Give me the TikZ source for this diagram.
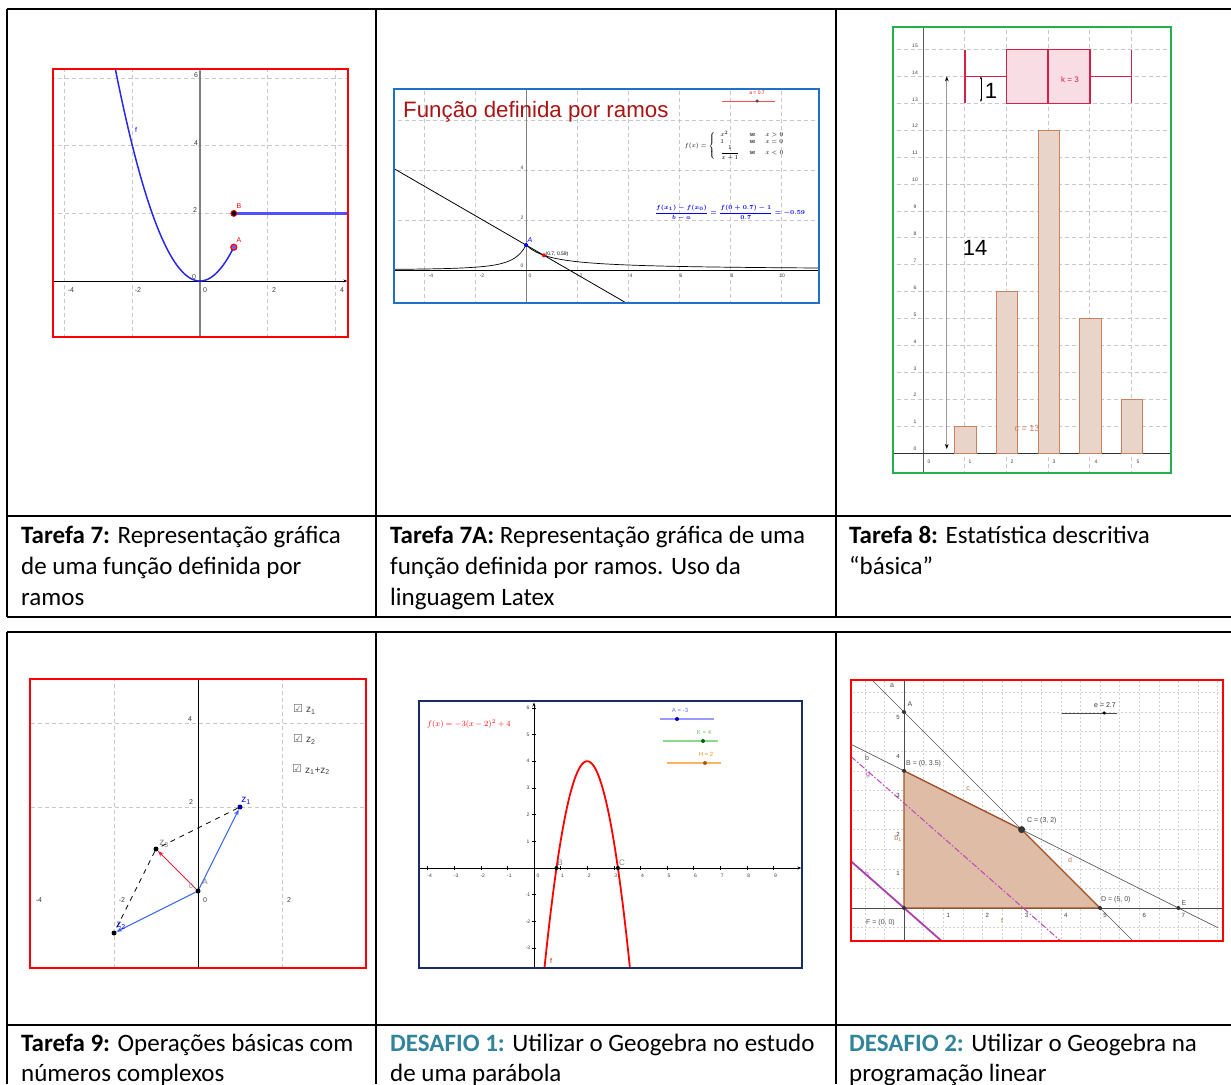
\documentclass[tikz,border=0pt]{standalone}
\usepackage{amsmath}
\usepackage{fontspec}
\setmainfont{Carlito}
\newfontfamily\arial{Liberation Sans}
\newfontfamily\dejavu{DejaVu Sans}
\usetikzlibrary{arrows.meta}
\definecolor{gridc}{RGB}{200,200,200}
\definecolor{teal1}{RGB}{49,132,155}
\definecolor{frblue}{RGB}{30,112,200}
\definecolor{frgreen}{RGB}{34,177,76}
\definecolor{frnavy}{RGB}{25,45,100}
\definecolor{titred}{RGB}{170,20,20}
\definecolor{boxred}{RGB}{214,30,72}
\definecolor{barfill}{RGB}{232,212,200}
\definecolor{bardraw}{RGB}{200,130,95}
\definecolor{polyfill}{RGB}{222,188,166}
\definecolor{polydraw}{RGB}{165,82,40}
\definecolor{mag}{RGB}{190,70,190}
\definecolor{vblue}{RGB}{50,100,240}
\definecolor{vred}{RGB}{235,30,60}
\definecolor{tickc}{RGB}{60,60,60}
\definecolor{gblue}{RGB}{40,40,235}
\definecolor{hblue}{RGB}{80,80,255}
\newcommand\gsz[1]{\arial\fontsize{#1}{#1}\selectfont}
\newcommand\ramosformula{$f(x)=\left\{\begin{array}{lll} x^2 & \mathrm{se} & x>0\\ 1 & \mathrm{se} & x=0\\ \dfrac{1}{x+1} & \mathrm{se} & x<0\end{array}\right.$}
\newcommand\secformula{$\dfrac{f(x_1)-f(x_0)}{b-a}=\dfrac{f(0+0.7)-1}{0.7}=-0.59$}
\newcommand\parformula{$f(x)=-3(x-2)^2+4$}
\tikzset{
  tline/.style={line width=1.4pt},
  tthick/.style={line width=2.3pt},
  captxt/.style={anchor=base west, inner sep=0pt, font=\fontsize{25}{30}\selectfont},
  grd/.style={gridc, dash pattern=on 4pt off 3pt, line width=0.7pt},
  grdf/.style={gridc!80, dash pattern=on 2pt off 2pt, line width=0.5pt},
  lbl/.style={inner sep=0pt, font=\gsz{7}, text=tickc},
  tinylbl/.style={inner sep=0pt, font=\gsz{5}, text=tickc},
  gdot/.style={circle, fill=black, inner sep=0pt, minimum size=5pt},
}
\begin{document}
\begin{tikzpicture}[x=1pt,y=-1pt]
\useasboundingbox (0,0) rectangle (1231,1084);
\fill[white] (0,0) rectangle (1231,1084);
% ---------------- table ----------------
\draw[tthick] (7,9) -- (1231,9);
\draw[tline] (7,9) -- (7,617);
\draw[tline] (376,9) -- (376,617);
\draw[tline] (836,9) -- (836,617);
\draw[tline] (7,516) -- (1231,516);
\draw[tthick] (7,617) -- (1231,617);
\draw[tthick] (7,632) -- (1231,632);
\draw[tline] (7,632) -- (7,1084);
\draw[tline] (376,632) -- (376,1084);
\draw[tline] (836,632) -- (836,1084);
\draw[tline] (7,1025) -- (1231,1025);
% captions
\node[captxt] (c1a) at (21,543) {\textbf{Tarefa 7:} Representação gráfica};
\node[captxt] (c1b) at (21,574) {de uma função definida por};
\node[captxt] (c1c) at (21,605) {ramos};
\node[captxt] (c2a) at (390,543) {\textbf{Tarefa 7A:} Representação gráfica de uma};
\node[captxt] (c2b) at (390,574) {função definida por ramos. Uso da};
\node[captxt] (c2c) at (390,605) {linguagem Latex};
\node[captxt] (c3a) at (849,543) {\textbf{Tarefa 8:} Estatística descritiva};
\node[captxt] (c3b) at (849,574) {“básica”};
\node[captxt] (c4a) at (21,1051) {\textbf{Tarefa 9:} Operações básicas com};
\node[captxt] (c4b) at (21,1081) {números complexos};
\node[captxt] (c5a) at (390,1051) {\textbf{\color{teal1}DESAFIO 1:} Utilizar o Geogebra no estudo};
\node[captxt] (c5b) at (390,1081) {de uma parábola};
\node[captxt] (c6a) at (849,1051) {\textbf{\color{teal1}DESAFIO 2:} Utilizar o Geogebra na};
\node[captxt] (c6b) at (849,1081) {programação linear};
% ---------------- panel 1 ----------------
\begin{scope}
\clip (54,70) rectangle (347,336);
\begin{scope}[shift={(200,281)}, x=33.8pt, y=33.8pt]
\foreach \i in {-4,-2,2,4} \draw[grd] (\i,-1.7) -- (\i,6.3);
\foreach \j in {4,6} \draw[grd] (-4.4,\j) -- (4.4,\j);
\draw[grd] (-4.4,2) -- (1,2);
\draw[gray, line width=1.2pt, -{Stealth[length=3pt]}] (0,-1.7) -- (0,6.27);
\draw[black, line width=0.8pt, -{Stealth[length=4pt]}] (-4.4,0) -- (4.36,0);
\draw[gblue, line width=1.5pt, domain=-2.6:1, samples=80] plot (\x,{\x*\x});
\fill[hblue] (1,1.96) rectangle (4.5,2.04);
\node[circle, fill=black, draw=red, line width=0.8pt, inner sep=0pt, minimum size=6pt] (p1B) at (1,2) {};
\node[circle, fill=blue!60, draw=red, line width=1.2pt, inner sep=0pt, minimum size=6pt] (p1A) at (1,1) {};
\end{scope}
\end{scope}
\draw[red, line width=1.8pt] (53,69) rectangle (348,337);
\node[lbl, text=blue] (l1f) at (136,130) {f};
\node[lbl, text=red] (l1B) at (239,206) {B};
\node[lbl, text=red] (l1A) at (239,240) {A};
\node[lbl] (t1a) at (71,290) {-4};
\node[lbl] (t1b) at (138,290) {-2};
\node[lbl] (t1c) at (205,290) {0};
\node[lbl] (t1d) at (274,290) {2};
\node[lbl] (t1e) at (342,290) {4};
\node[lbl] (t1f) at (196,75) {6};
\node[lbl] (t1g) at (196,143) {4};
\node[lbl] (t1h) at (195,210) {2};
\node[lbl] (t1i) at (194,277) {0};
% ---------------- panel 2 ----------------
\begin{scope}
\clip (395,90) rectangle (818,302);
\begin{scope}[shift={(526,270)}, x=25.5pt, y=25pt]
\foreach \i in {-4,-2,2,4,6,8,10} \draw[grd] (\i,-1.4) -- (\i,7.3);
\foreach \j in {2,4,6} \draw[grd] (-5.3,\j) -- (11.6,\j);
\draw[gray, line width=1pt] (0,-1.4) -- (0,7.3);
\draw[black, line width=0.9pt] (-5.3,0) -- (11.6,0);
\draw[black, line width=0.7pt, domain=-5.3:0, samples=60] plot (\x,{1/((1-\x)*(1-\x))});
\draw[black, line width=0.7pt, domain=0:11.6, samples=60] plot (\x,{1/(1+\x)});
\draw[black, line width=0.8pt] (-5.3,{1+0.59*5.3}) -- (4.1,{1-0.59*4.1});
\node[circle, fill=blue, inner sep=0pt, minimum size=4pt] (p2A) at (0,1) {};
\node[circle, fill=red, inner sep=0pt, minimum size=4pt] (p2P) at (0.7,0.588) {};
\end{scope}
\end{scope}
\draw[frblue, line width=1.8pt] (394,89) rectangle (819,303);
\node[anchor=base west, inner sep=0pt, text=titred, font=\arial\fontsize{22.3}{22}\selectfont] (t2) at (403,117) {Função definida por ramos};
\draw[red!70, line width=1pt] (722,101) -- (775,101);
\node[circle, fill=black!70, inner sep=0pt, minimum size=3.5pt] (s2) at (757,101) {};
\node[tinylbl, text=red] (s2l) at (757,93) {a = 0.7};
\node[inner sep=0pt, font=\fontsize{6.5}{7}\selectfont] (f2) at (737,146) {\ramosformula};
\node[inner sep=0pt, text=blue, font=\fontsize{6.5}{7}\selectfont\boldmath] (g2) at (730,213) {\secformula};
\node[inner sep=0pt, text=blue, font=\gsz{7}\itshape] (l2A) at (530,240) {A};
\node[tinylbl, text=black] (l2P) at (557,254) {(0.7, 0.59)};
\node[tinylbl] (t2a) at (431,276) {-4};
\node[tinylbl] (t2b) at (482,276) {-2};
\node[tinylbl] (t2c) at (530,276) {0};
\node[tinylbl] (t2d) at (581,276) {2};
\node[tinylbl] (t2e) at (631,276) {4};
\node[tinylbl] (t2f) at (681,276) {6};
\node[tinylbl] (t2g) at (732,276) {8};
\node[tinylbl] (t2h) at (782,276) {10};
\node[tinylbl] (t2i) at (522,168) {4};
\node[tinylbl] (t2j) at (522,218) {2};
\node[tinylbl] (t2k) at (522,266) {0};
% ---------------- panel 3 ----------------
\begin{scope}
\clip (894,28) rectangle (1170,472);
\begin{scope}[shift={(923,453)}, x=41.7pt, y=26.9pt]
\foreach \i in {1,...,5} \draw[grd] (\i,-0.8) -- (\i,15.9);
\foreach \j in {1,...,15} \draw[grd] (-0.8,\j) -- (6,\j);
\draw[gray!70!black, line width=1pt] (0,-0.8) -- (0,15.9);
\draw[black!80, line width=1pt] (-0.8,0) -- (6,0);
\foreach \i/\h in {1/1,2/6,3/12,4/5,5/2} \draw[bardraw, fill=barfill, line width=0.9pt] (\i-0.24,0) rectangle (\i+0.27,\h);
\draw[boxred, fill=boxred!15, line width=1.6pt] (2,13) rectangle (4,15);
\draw[boxred, line width=1.6pt] (3,13) -- (3,15) (1,13) -- (1,15) (5,13) -- (5,15) (1,14) -- (2,14) (4,14) -- (5,14);
\draw[gray!80, line width=0.8pt, {Stealth[black,length=5pt]}-{Stealth[black,length=5pt]}] (0.57,0.15) -- (0.57,14);
\draw[black, line width=0.6pt, {Stealth[length=3pt]}-{Stealth[length=3pt]}] (1.39,14) -- (1.39,13.05);
\end{scope}
\end{scope}
\draw[frgreen, line width=1.8pt] (893,27) rectangle (1171,473);
\node[inner sep=0pt, font=\arial\fontsize{22}{22}\selectfont] (l3one) at (991,91) {1};
\node[inner sep=0pt, font=\arial\fontsize{22}{22}\selectfont] (l3ft) at (975,248) {14};
\node[inner sep=0pt, font=\gsz{8}, text=boxred] (l3k) at (1070,80) {k = 3};
\node[inner sep=0pt, font=\gsz{9}, text=bardraw] (l3c) at (1027,428) {c = 13};
\node[tinylbl] (t3x0) at (929,462) {0};
\node[tinylbl] (t3x1) at (970,462) {1};
\node[tinylbl] (t3x2) at (1012,462) {2};
\node[tinylbl] (t3x3) at (1054,462) {3};
\node[tinylbl] (t3x4) at (1096,462) {4};
\node[tinylbl] (t3x5) at (1138,462) {5};
\foreach \j in {0,...,15} \node[tinylbl] (t3y\j) at (915,{453-26.9*\j-4}) {\j};
% ---------------- panel 4 ----------------
\begin{scope}[shift={(198,891)}, x=42pt, y=42pt]
\draw[grd] (-2,-1.83) -- (-2,5.03) (2,-1.83) -- (2,5.03) (-3.98,2) -- (3.98,2) (-3.98,4) -- (3.98,4);
\draw[black, line width=0.9pt] (0,-1.83) -- (0,5.03);
\node[gdot] (z0) at (0,0) {};
\node[gdot, fill=blue!60!black] (z1) at (1,2) {};
\node[gdot] (z2) at (-2,-1) {};
\node[gdot] (z3) at (-1,1) {};
\end{scope}
\draw[black, line width=0.8pt, dash pattern=on 5pt off 5pt] (z1) -- (z3) -- (z2);
\draw[vblue, line width=1pt, -{Stealth[length=6pt]}] (z0) -- (z1);
\draw[vblue, line width=1pt, -{Stealth[length=6pt]}] (z0) -- (z2);
\draw[vred, line width=1pt, -{Stealth[length=6pt]}] (z0) -- (z3);
\draw[red, line width=1.8pt] (30,679) rectangle (366,968);
\node[inner sep=0pt, font=\gsz{10}, text=blue] (l4z1) at (246,801) {z\textsubscript{1}};
\node[inner sep=0pt, font=\gsz{10}, text=blue] (l4z2) at (121,926) {z\textsubscript{2}};
\node[inner sep=0pt, font=\gsz{10}, text=gray] (l4z3) at (164,844) {z\textsubscript{3}};
\node[inner sep=0pt, font=\gsz{8}, text=gray] (l4A) at (205,882) {A};
\node[inner sep=0pt, font=\gsz{7}, text=gray] (l4o) at (191,886) {0};
\node[lbl] (t4a) at (190,719) {4};
\node[lbl] (t4b) at (191,802) {2};
\node[lbl] (t4c) at (39,900) {-4};
\node[lbl] (t4d) at (122,900) {-2};
\node[lbl] (t4e) at (205,900) {0};
\node[lbl] (t4f) at (289,900) {2};
\node[inner sep=0pt, font=\dejavu\fontsize{11}{11}\selectfont, text=gray!80!black] (cb1) at (298,708) {☑};
\node[inner sep=0pt, font=\dejavu\fontsize{11}{11}\selectfont, text=gray!80!black] (cb2) at (298,738) {☑};
\node[inner sep=0pt, font=\dejavu\fontsize{11}{11}\selectfont, text=gray!80!black] (cb3) at (297,768) {☑};
\node[anchor=west, inner sep=0pt, font=\gsz{10}, text=black!75] (cb1l) at (306,711) {z\textsubscript{1}};
\node[anchor=west, inner sep=0pt, font=\gsz{10}, text=black!75] (cb2l) at (306,741) {z\textsubscript{2}};
\node[anchor=west, inner sep=0pt, font=\gsz{10}, text=black!75] (cb3l) at (305,771) {z\textsubscript{1}+z\textsubscript{2}};
% ---------------- panel 5 ----------------
\begin{scope}
\clip (420,702) rectangle (801,967);
\begin{scope}[shift={(534,868)}, x=26.6pt, y=26.7pt]
\draw[black, line width=0.7pt, -{Stealth[length=4pt]}] (-4.3,0) -- (10.05,0);
\draw[black, line width=0.7pt, -{Stealth[length=4pt]}] (0,-3.8) -- (0,6.2);
\foreach \i in {-4,...,9} \draw[black, line width=0.5pt] (\i,-0.08) -- (\i,0.08);
\foreach \j in {-3,...,6} \draw[black, line width=0.5pt] (-0.08,\j) -- (0.08,\j);
\draw[red, line width=1.8pt, domain=0.38:3.62, samples=80] plot (\x,{-3*(\x-2)^2+4});
\node[circle, fill=black, inner sep=0pt, minimum size=4pt] (p5B) at (0.845,0) {};
\node[circle, fill=black, inner sep=0pt, minimum size=4pt] (p5C) at (3.155,0) {};
\end{scope}
\end{scope}
\draw[frnavy, line width=1.8pt] (419,701) rectangle (802,968);
\node[anchor=west, inner sep=0pt, text=red, font=\fontsize{8}{8}\selectfont] (f5) at (427,724) {\parformula};
\node[inner sep=0pt, font=\gsz{8}, text=gray] (l5B) at (560,863) {B};
\node[inner sep=0pt, font=\gsz{8}, text=gray] (l5C) at (622,863) {C};
\node[inner sep=0pt, font=\gsz{7}, text=red] (l5f) at (551,961) {f};
\draw[blue!40, line width=1.5pt] (660,719) -- (714,719);
\node[circle, fill=blue!70!black, inner sep=0pt, minimum size=4pt] (s5a) at (677,719) {};
\node[inner sep=0pt, font=\gsz{6}, text=blue!60] (s5al) at (680,710) {A = -3};
\draw[green!50!gray!60, line width=1.2pt] (663,741) -- (718,741);
\node[circle, fill=green!40!black, inner sep=0pt, minimum size=4pt] (s5k) at (703,741) {};
\node[inner sep=0pt, font=\gsz{6}, text=green!60!black!60] (s5kl) at (704,732) {K = 4};
\draw[orange!60, line width=1.2pt] (667,763) -- (721,763);
\node[circle, fill=orange!70!black, inner sep=0pt, minimum size=4pt] (s5h) at (705,763) {};
\node[inner sep=0pt, font=\gsz{6}, text=orange!90] (s5hl) at (706,754) {H = 2};
\foreach \i in {-4,-3,-2,-1,1,2,3,4,5,6,7,8,9} \node[tinylbl] (t5x\i) at ({534+26.6*\i+2},876) {\i};
\foreach \j in {-3,-2,-1,1,2,3,4,5,6} \node[tinylbl] (t5y\j) at (528,{868-26.7*\j}) {\j};
\node[tinylbl] (t5o) at (538,876) {0};
% ---------------- panel 6 ----------------
\begin{scope}
\clip (852,681) rectangle (1222,940);
\begin{scope}[shift={(904,908)}, x=39.2pt, y=39.2pt]
\foreach \i in {-1,-0.5,...,8} \draw[grdf] (\i,-0.9) -- (\i,5.9);
\foreach \j in {-0.5,0,...,5.5} \draw[grdf] (-1.4,\j) -- (8.2,\j);
\draw[black!70, line width=0.7pt] (-1.4,0) -- (8.2,0);
\draw[black!70, line width=0.7pt] (0,-0.9) -- (0,5.9);
\coordinate (qF) at (0,0);
\coordinate (qB) at (0,3.5);
\coordinate (qC) at (3,2);
\coordinate (qD) at (5,0);
\fill[polyfill] (qF) -- (qB) -- (qC) -- (qD) -- cycle;
\draw[black!65, line width=0.7pt] (-0.82,5.82) -- (5.84,-0.84);
\draw[black!65, line width=0.7pt] (-1.35,4.175) -- (8,-0.5);
\draw[polydraw, line width=1.3pt] (qF) -- (qB) -- (qC) -- (qD) -- cycle;
\draw[mag, line width=1pt, dash pattern=on 6pt off 2pt on 1.5pt off 2pt] (-1.35,{2.676+0.88*1.35}) -- (4.05,{2.676-0.88*4.05});
\draw[mag!90!black, line width=1.8pt] (-1.35,1.19) -- (0.98,-0.86);
\node[circle, fill=black!80, inner sep=0pt, minimum size=4pt] (p6A) at (0,5) {};
\node[circle, fill=black!80, inner sep=0pt, minimum size=4pt] (p6B) at (0,3.5) {};
\node[circle, fill=black!80, inner sep=0pt, minimum size=7pt] (p6C) at (3,2) {};
\node[circle, fill=black!80, inner sep=0pt, minimum size=4pt] (p6D) at (5,0) {};
\node[circle, fill=black!80, inner sep=0pt, minimum size=4pt] (p6E) at (7,0) {};
\node[circle, fill=black!80, inner sep=0pt, minimum size=4pt] (p6F) at (0,0) {};
\end{scope}
\end{scope}
\draw[red, line width=1.8pt] (851,680) rectangle (1223,941);
\draw[black!70, line width=0.8pt] (1062,713) -- (1117,713);
\node[circle, fill=black, inner sep=0pt, minimum size=3.5pt] (s6) at (1104,713) {};
\node[inner sep=0pt, font=\gsz{7}, text=black!80] (s6l) at (1105,705) {e = 2.7};
\node[inner sep=0pt, font=\gsz{7}, text=black!70] (l6a) at (892,686) {a};
\node[inner sep=0pt, font=\gsz{7}, text=black!70] (l6A) at (910,704) {A};
\node[inner sep=0pt, font=\gsz{7}, text=black!70] (l6b) at (867,758) {b};
\node[anchor=west, inner sep=0pt, font=\gsz{7}, text=black!70] (l6B) at (906,764) {B = (0, 3.5)};
\node[inner sep=0pt, font=\gsz{7}, text=mag] (l6g) at (868,775) {g};
\node[inner sep=0pt, font=\gsz{7}, text=polydraw!80] (l6c) at (968,789) {c};
\node[anchor=west, inner sep=0pt, font=\gsz{7}, text=black!70] (l6C) at (1027,821) {C = (3, 2)};
\node[inner sep=0pt, font=\gsz{7}, text=polydraw!80] (l6b1) at (898,838) {b\textsubscript{1}};
\node[inner sep=0pt, font=\gsz{7}, text=polydraw!80] (l6d) at (1070,860) {d};
\node[anchor=west, inner sep=0pt, font=\gsz{7}, text=black!70] (l6D) at (1101,900) {D = (5, 0)};
\node[inner sep=0pt, font=\gsz{7}, text=black!70] (l6E) at (1184,903) {E};
\node[inner sep=0pt, font=\gsz{7}, text=mag] (l6h) at (867,874) {h};
\node[anchor=west, inner sep=0pt, font=\gsz{7}, text=black!70] (l6F) at (866,923) {F = (0, 0)};
\node[inner sep=0pt, font=\gsz{7}, text=polydraw!80] (l6f) at (1002,921) {f};
\foreach \i in {1,...,7} \node[inner sep=0pt, font=\gsz{6}, text=tickc] (t6x\i) at ({904+39.2*\i+5},915) {\i};
\foreach \j in {1,...,5} \node[inner sep=0pt, font=\gsz{6}, text=tickc] (t6y\j) at (898,{908-39.2*\j+5}) {\j};
\end{tikzpicture}
\end{document}
